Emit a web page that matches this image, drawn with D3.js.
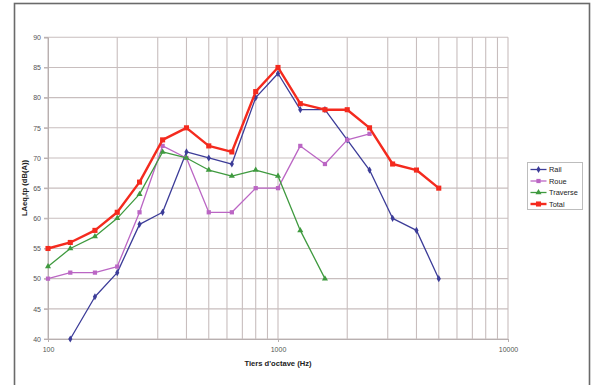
<!DOCTYPE html>
<html>
<head>
<meta charset="utf-8">
<script src="https://cdn.jsdelivr.net/npm/d3@7"></script>
<style>
  html, body { margin: 0; padding: 0; background: #fff; }
  svg { display: block; font-family: "Liberation Sans", Arial, sans-serif; }
</style>
</head>
<body>
<svg id="chart" width="595" height="385"></svg>
<script>
// Third-octave band centre frequencies (Hz)
const freqs = [100, 125, 160, 200, 250, 315, 400, 500, 630, 800, 1000, 1250, 1600, 2000, 2500, 3150, 4000, 5000];

// LAeq,tp per band, dB(A); null where a component has no value
const rail     = [null, 40, 47, 51, 59, 61, 71, 70, 69, 80, 84, 78, 78, 73, 68, 60, 58, 50];
const roue     = [50, 51, 51, 52, 61, 72, 70, 61, 61, 65, 65, 72, 69, 73, 74, null, null, null];
const traverse = [52, 55, 57, 60, 64, 71, 70, 68, 67, 68, 67, 58, 50, null, null, null, null, null];
const total    = [55, 56, 58, 61, 66, 73, 75, 72, 71, 81, 85, 79, 78, 78, 75, 69, 68, 65];

const seriesNames = ["Rail", "Roue", "Traverse", "Total"];
const yTicks = [40, 45, 50, 55, 60, 65, 70, 75, 80, 85, 90];
const xTickLabels = [100, 1000, 10000];

const series = [
  { name: seriesNames[0], values: rail,     color: "#3c3c98", marker: "diamond",  width: 1.3, size: 15 },
  { name: seriesNames[1], values: roue,     color: "#bb66c4", marker: "square",   width: 1.3, size: 18 },
  { name: seriesNames[2], values: traverse, color: "#3f9a3f", marker: "triangle", width: 1.3, size: 16 },
  { name: seriesNames[3], values: total,    color: "#f42a1e", marker: "square",   width: 2.4, size: 26 }
];

const svg = d3.select("#chart");
const plot = { left: 48, right: 508, top: 37.3, bottom: 339 };

const x = d3.scaleLog().domain([100, 10000]).range([plot.left, plot.right]);
const y = d3.scaleLinear().domain([40, 90]).range([plot.bottom, plot.top]);

// Outer frame
svg.append("rect")
  .attr("x", 14.5).attr("y", 3.5).attr("width", 575).attr("height", 390)
  .attr("fill", "#fff").attr("stroke", "#6a6a6a").attr("stroke-width", 1.6);

// Vertical grid at every log step
const minorX = [];
for (let d = 100; d < 10000; d *= 10) for (let k = 1; k <= 10; k++) minorX.push(d * k);
svg.append("g").selectAll("line").data(Array.from(new Set(minorX)))
  .join("line")
  .attr("x1", d => x(d)).attr("x2", d => x(d))
  .attr("y1", plot.top).attr("y2", plot.bottom)
  .attr("stroke", "#c8bebe").attr("stroke-width", 1.1);

// Horizontal grid
svg.append("g").selectAll("line").data(yTicks)
  .join("line")
  .attr("x1", plot.left - 4).attr("x2", plot.right)
  .attr("y1", d => y(d)).attr("y2", d => y(d))
  .attr("stroke", "#c8bebe").attr("stroke-width", 1.1);

// Y axis
const yAxis = d3.axisLeft(y).tickValues(yTicks).tickSize(4).tickPadding(3);
const gy = svg.append("g").attr("transform", `translate(${plot.left},0)`).call(yAxis);
gy.select(".domain").attr("stroke", "#b8b0b0");
gy.selectAll(".tick line").attr("stroke", "#b8b0b0");
gy.selectAll("text").attr("font-size", 7).attr("fill", "#555");

// X axis
const xAxis = d3.axisBottom(x).tickValues(xTickLabels).tickFormat(d3.format("d")).tickSize(3).tickPadding(5);
const gx = svg.append("g").attr("transform", `translate(0,${plot.bottom})`).call(xAxis);
gx.select(".domain").attr("stroke", "#b8b0b0");
gx.selectAll(".tick line").attr("stroke", "#b8b0b0");
gx.selectAll("text").attr("font-size", 7).attr("fill", "#555");

// Axis titles
svg.append("text")
  .attr("x", (plot.left + plot.right) / 2).attr("y", 366)
  .attr("text-anchor", "middle").attr("font-size", 7.6).attr("font-weight", "bold").attr("fill", "#222")
  .text("Tiers d'octave (Hz)");
svg.append("text")
  .attr("transform", "translate(27,188) rotate(-90)")
  .attr("text-anchor", "middle").attr("font-size", 7.6).attr("font-weight", "bold").attr("fill", "#222")
  .text("LAeq,tp (dB(A))");

const symbolType = { diamond: d3.symbolDiamond, square: d3.symbolSquare, triangle: d3.symbolTriangle };

const line = d3.line()
  .defined(d => d.v != null)
  .x(d => x(d.f)).y(d => y(d.v));

series.forEach(s => {
  const pts = freqs.map((f, i) => ({ f, v: s.values[i] }));
  const g = svg.append("g");
  g.append("path").datum(pts)
    .attr("d", line).attr("fill", "none")
    .attr("stroke", s.color).attr("stroke-width", s.width).attr("stroke-linejoin", "round");
  g.selectAll("path.m").data(pts.filter(d => d.v != null))
    .join("path").attr("class", "m")
    .attr("transform", d => `translate(${x(d.f)},${y(d.v)})`)
    .attr("d", d3.symbol(symbolType[s.marker], s.size))
    .attr("fill", s.color);
});

// Legend
const lg = svg.append("g").attr("transform", "translate(527.5,162.5)");
lg.append("rect").attr("width", 55).attr("height", 47)
  .attr("fill", "#fff").attr("stroke", "#bdbdbd").attr("stroke-width", 1);
series.forEach((s, i) => {
  const yy = 7 + i * 11.5;
  lg.append("line").attr("x1", 3).attr("x2", 19).attr("y1", yy).attr("y2", yy)
    .attr("stroke", s.color).attr("stroke-width", s.width);
  lg.append("path").attr("transform", `translate(11,${yy})`)
    .attr("d", d3.symbol(symbolType[s.marker], s.size)).attr("fill", s.color);
  lg.append("text").attr("x", 21.5).attr("y", yy + 2.6)
    .attr("font-size", 7.4).attr("fill", "#222").text(s.name);
});
</script>
</body>
</html>
